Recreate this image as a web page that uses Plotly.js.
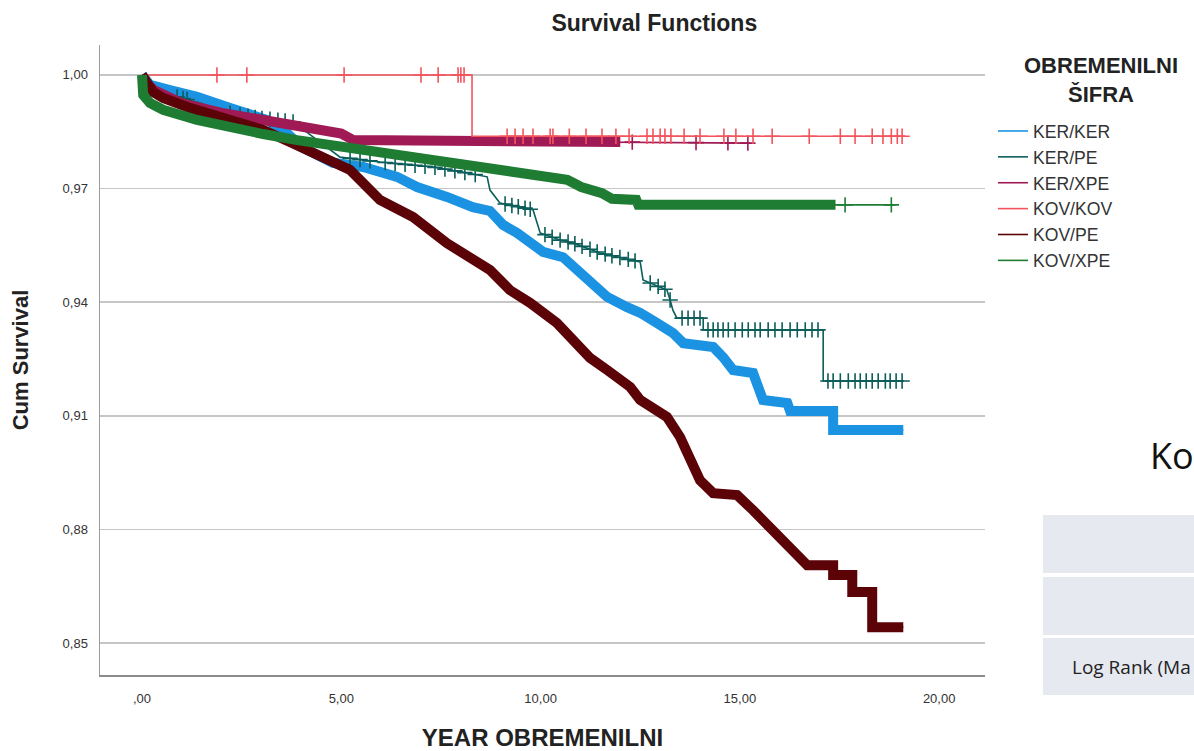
<!DOCTYPE html>
<html>
<head>
<meta charset="utf-8">
<script src="https://cdn.plot.ly/plotly-3.0.1.min.js"></script>
<style>html,body{margin:0;padding:0;background:#fff;}#chart{width:1194px;height:751px;}</style>
</head>
<body>
<div id="chart"></div>
<script>
// ---------------- DATA ----------------
const seriesNames = ['KER/KER', 'KER/PE', 'KER/XPE', 'KOV/KOV', 'KOV/PE', 'KOV/XPE'];

const kerkerTime = [0, 0.2, 0.7, 1.38, 2.21, 3.14, 3.6, 4.0, 4.79, 5.55, 6.4, 6.9, 7.65, 8.3, 8.73, 9.06, 9.41, 9.74, 10.06, 10.56, 10.92, 11.24, 11.67, 12.17, 12.5, 12.92, 13.32, 13.58, 14.33, 14.58, 14.83, 15.33, 15.51, 15.58, 16.19, 16.26, 17.34, 17.34, 19.1];
const kerkerSurv = [1.0, 0.9974, 0.996, 0.9942, 0.9913, 0.9881, 0.985, 0.981, 0.9768, 0.9757, 0.9731, 0.9704, 0.9678, 0.9651, 0.9641, 0.9604, 0.9583, 0.9559, 0.9533, 0.9519, 0.9485, 0.9451, 0.9414, 0.9387, 0.9372, 0.9345, 0.9319, 0.9292, 0.9282, 0.9255, 0.9221, 0.9213, 0.9168, 0.9142, 0.9134, 0.9113, 0.9113, 0.9063, 0.9063];

const kerpeTime = [0, 0.33, 0.88, 1.46, 2.13, 2.96, 3.79, 4.22, 4.97, 5.97, 7.3, 8.16, 8.66, 8.73, 8.98, 9.81, 9.99, 10.49, 10.82, 11.49, 12.5, 12.57, 13.17, 13.25, 13.32, 13.42, 14.08, 14.08, 17.09, 17.09, 19.1];
const kerpeSurv = [1.0, 0.9968, 0.9942, 0.9926, 0.99, 0.9886, 0.9876, 0.9842, 0.9783, 0.977, 0.9757, 0.9741, 0.9731, 0.9696, 0.9662, 0.9644, 0.9583, 0.9564, 0.9556, 0.953, 0.9506, 0.9459, 0.9432, 0.9406, 0.9379, 0.9358, 0.9358, 0.9327, 0.9327, 0.9192, 0.9192];
const kerpeCensor = [0.88, 1.03, 1.13, 2.21, 2.46, 2.66, 2.84, 3.01, 3.21, 3.41, 3.59, 3.79, 5.22, 5.47, 5.72, 6.1, 6.35, 6.6, 6.85, 7.1, 7.35, 7.6, 7.85, 8.1, 8.36, 9.11, 9.28, 9.44, 9.61, 9.74, 10.11, 10.29, 10.49, 10.69, 10.86, 11.04, 11.24, 11.42, 11.62, 11.79, 11.99, 12.2, 12.37, 12.75, 12.95, 13.12, 13.25, 13.55, 13.7, 13.85, 14.0, 14.2, 14.33, 14.45, 14.58, 14.71, 14.88, 15.06, 15.21, 15.38, 15.51, 15.71, 15.88, 16.06, 16.26, 16.44, 16.64, 16.81, 16.96, 17.21, 17.34, 17.52, 17.72, 17.89, 18.02, 18.17, 18.32, 18.47, 18.65, 18.77, 18.92, 19.07];

const kerxpeTime = [0, 0.1, 0.3, 1.0, 2.0, 3.0, 4.0, 5.0, 5.3, 8.0, 12.0, 15.26];
const kerxpeSurv = [1.0, 0.998, 0.996, 0.9925, 0.990, 0.988, 0.9862, 0.9845, 0.9828, 0.9825, 0.9823, 0.982];
const kerxpeCensor = [12.3, 13.9, 14.7, 15.2];

const kovkovTime = [0, 8.28, 8.28, 19.15];
const kovkovSurv = [1.0, 1.0, 0.9838, 0.9838];
const kovkovCensor = [1.88, 2.63, 5.07, 7.0, 7.43, 7.93, 8.0, 8.08, 9.16, 9.36, 9.56, 9.81, 10.24, 10.31, 10.72, 11.14, 11.54, 11.89, 12.22, 12.67, 12.82, 13.0, 13.12, 13.27, 13.6, 14.0, 14.6, 14.9, 15.33, 15.81, 16.74, 17.52, 17.89, 18.32, 18.59, 18.8, 18.95, 19.07];

const kovpeTime = [0, 0.28, 0.53, 1.2, 2.21, 3.04, 3.71, 4.39, 5.22, 5.97, 6.8, 7.65, 8.48, 8.73, 9.23, 9.74, 10.41, 10.82, 11.24, 11.67, 12.25, 12.5, 13.17, 13.5, 13.75, 14.0, 14.33, 14.93, 15.33, 15.83, 16.34, 16.69, 17.34, 17.34, 17.82, 17.82, 18.32, 18.32, 19.1];
const kovpeSurv = [1.0, 0.9955, 0.9939, 0.9913, 0.9881, 0.9855, 0.9823, 0.9789, 0.9749, 0.967, 0.9625, 0.9556, 0.9504, 0.9485, 0.9432, 0.9398, 0.9345, 0.930, 0.9253, 0.9221, 0.9176, 0.9142, 0.9097, 0.9044, 0.8991, 0.893, 0.8896, 0.8891, 0.8851, 0.8798, 0.8746, 0.8706, 0.8706, 0.868, 0.868, 0.8635, 0.8635, 0.8542, 0.8542];

const kovxpeTime = [0, 0.03, 0.2, 0.53, 1.38, 2.21, 3.04, 3.89, 4.72, 5.55, 6.4, 7.23, 8.06, 8.91, 9.74, 10.31, 10.67, 11.02, 11.54, 11.79, 12.4, 12.45, 18.9];
const kovxpeSurv = [1.0, 0.9947, 0.9926, 0.9908, 0.9881, 0.986, 0.9844, 0.9828, 0.9815, 0.9802, 0.9789, 0.9776, 0.9762, 0.9749, 0.9739, 0.9733, 0.9723, 0.9704, 0.9688, 0.9673, 0.967, 0.9657, 0.9657];
const kovxpeCensor = [17.64, 18.8];

const xTickVals = [0, 5, 10, 15, 20];
const xTickLabels = [',00', '5,00', '10,00', '15,00', '20,00'];
const yTickVals = [0.85, 0.88, 0.91, 0.94, 0.97, 1.00];
const yTickLabels = ['0,85', '0,88', '0,91', '0,94', '0,97', '1,00'];

// ---------------- STYLE ----------------
const FONT = 'Arial, "Liberation Sans", sans-serif';
const series = [
  {name: seriesNames[0], t: kerkerTime, s: kerkerSurv, c: [], color: '#1b93e2', bandEnd: 19.1},
  {name: seriesNames[1], t: kerpeTime, s: kerpeSurv, c: kerpeCensor, color: '#0b5e59', bandEnd: null},
  {name: seriesNames[2], t: kerxpeTime, s: kerxpeSurv, c: kerxpeCensor, color: '#a01a55', bandEnd: 12.0},
  {name: seriesNames[3], t: kovkovTime, s: kovkovSurv, c: kovkovCensor, color: '#f4545d', bandEnd: null},
  {name: seriesNames[4], t: kovpeTime, s: kovpeSurv, c: [], color: '#5b0307', bandEnd: 19.1},
  {name: seriesNames[5], t: kovxpeTime, s: kovxpeSurv, c: kovxpeCensor, color: '#1f7c33', bandEnd: 17.4}
];

function valueAt(t, s, x) {
  let v = s[0];
  for (let i = 0; i < t.length; i++) {
    if (t[i] <= x) v = s[i];
    if (i > 0 && t[i - 1] < x && t[i] > x) {
      const f = (x - t[i - 1]) / (t[i] - t[i - 1]);
      return s[i - 1] + f * (s[i] - s[i - 1]);
    }
  }
  return v;
}

const traces = [];
series.forEach(sr => {
  if (sr.bandEnd !== null) {
    const bx = [], by = [];
    for (let i = 0; i < sr.t.length; i++) {
      if (sr.t[i] <= sr.bandEnd) { bx.push(sr.t[i]); by.push(sr.s[i]); }
    }
    if (bx[bx.length - 1] < sr.bandEnd) { bx.push(sr.bandEnd); by.push(valueAt(sr.t, sr.s, sr.bandEnd)); }
    traces.push({x: bx, y: by, mode: 'lines', line: {color: sr.color, width: 10}, showlegend: false, legendgroup: sr.name, hoverinfo: 'skip'});
  }
  traces.push({x: sr.t, y: sr.s, name: sr.name, mode: 'lines', line: {color: sr.color, width: 1.6}, legendgroup: sr.name});
  if (sr.c.length) {
    traces.push({x: sr.c, y: sr.c.map(v => valueAt(sr.t, sr.s, v)), mode: 'markers', showlegend: false, legendgroup: sr.name,
      marker: {symbol: 'cross-thin', size: 11, line: {color: sr.color, width: 1.6}, color: sr.color}, hoverinfo: 'skip'});
  }
});

const layout = {
  width: 1194, height: 751,
  paper_bgcolor: '#ffffff', plot_bgcolor: '#ffffff',
  margin: {l: 100, r: 209, t: 45, b: 76},
  font: {family: FONT, color: '#222'},
  title: {text: '<b>Survival Functions</b>', font: {family: FONT, size: 23, color: '#222'}, x: 0.548, xanchor: 'center', y: 0.969, yanchor: 'middle'},
  xaxis: {
    range: [-1.054, 21.15], tickvals: xTickVals, ticktext: xTickLabels,
    showgrid: false, zeroline: false, showline: true, linecolor: '#8c8c8c', linewidth: 2,
    ticks: '', ticklabelstandoff: 10, tickfont: {family: FONT, size: 13, color: '#333'},
    title: {text: '<b>YEAR OBREMENILNI</b>', font: {family: FONT, size: 24, color: '#222'}, standoff: 30}
  },
  yaxis: {
    range: [0.8416, 1.0079], tickvals: yTickVals, ticktext: yTickLabels,
    showgrid: true, gridcolor: '#c6c6c6', gridwidth: 1.5, zeroline: false,
    showline: true, linecolor: '#9a9a9a', linewidth: 1.5,
    ticks: '', ticklabelstandoff: 8, tickfont: {family: FONT, size: 13, color: '#333'},
    title: {text: '<b>Cum Survival</b>', font: {family: FONT, size: 22, color: '#222'}, standoff: 28}
  },
  legend: {
    x: 1.009, xanchor: 'left', y: 0.892, yanchor: 'top',
    font: {family: FONT, size: 17.6, color: '#333'},
    bgcolor: 'rgba(0,0,0,0)', borderwidth: 0, tracegroupgap: 0, itemwidth: 30
  },
  shapes: [
    {type: 'rect', xref: 'paper', yref: 'paper', x0: 1.0655, x1: 1.25, y0: 0.1619, y1: 0.254, fillcolor: '#e7e9f1', line: {width: 0}, layer: 'below'},
    {type: 'rect', xref: 'paper', yref: 'paper', x0: 1.0655, x1: 1.25, y0: 0.0635, y1: 0.1556, fillcolor: '#e7e9f1', line: {width: 0}, layer: 'below'},
    {type: 'rect', xref: 'paper', yref: 'paper', x0: 1.0655, x1: 1.25, y0: -0.0317, y1: 0.0587, fillcolor: '#e7e9f1', line: {width: 0}, layer: 'below'}
  ],
  annotations: [
    {xref: 'paper', yref: 'paper', x: 1.131, y: 0.9437, xanchor: 'center', yanchor: 'middle', align: 'center', text: '<b>OBREMENILNI<br>ŠIFRA</b>', showarrow: false, font: {family: FONT, size: 22, color: '#222'}},
    {xref: 'paper', yref: 'paper', x: 1.184, y: 0.349, xanchor: 'left', yanchor: 'middle', text: 'Ko', showarrow: false, font: {family: '"Open Sans", ' + FONT, size: 36, color: '#111'}},
    {xref: 'paper', yref: 'paper', x: 1.096, y: 0.0127, xanchor: 'left', yanchor: 'middle', text: 'Log Rank (Ma', showarrow: false, font: {family: '"Open Sans", ' + FONT, size: 19, color: '#222'}}
  ]
};

Plotly.newPlot('chart', traces, layout, {displayModeBar: false, staticPlot: true});
</script>
</body>
</html>
